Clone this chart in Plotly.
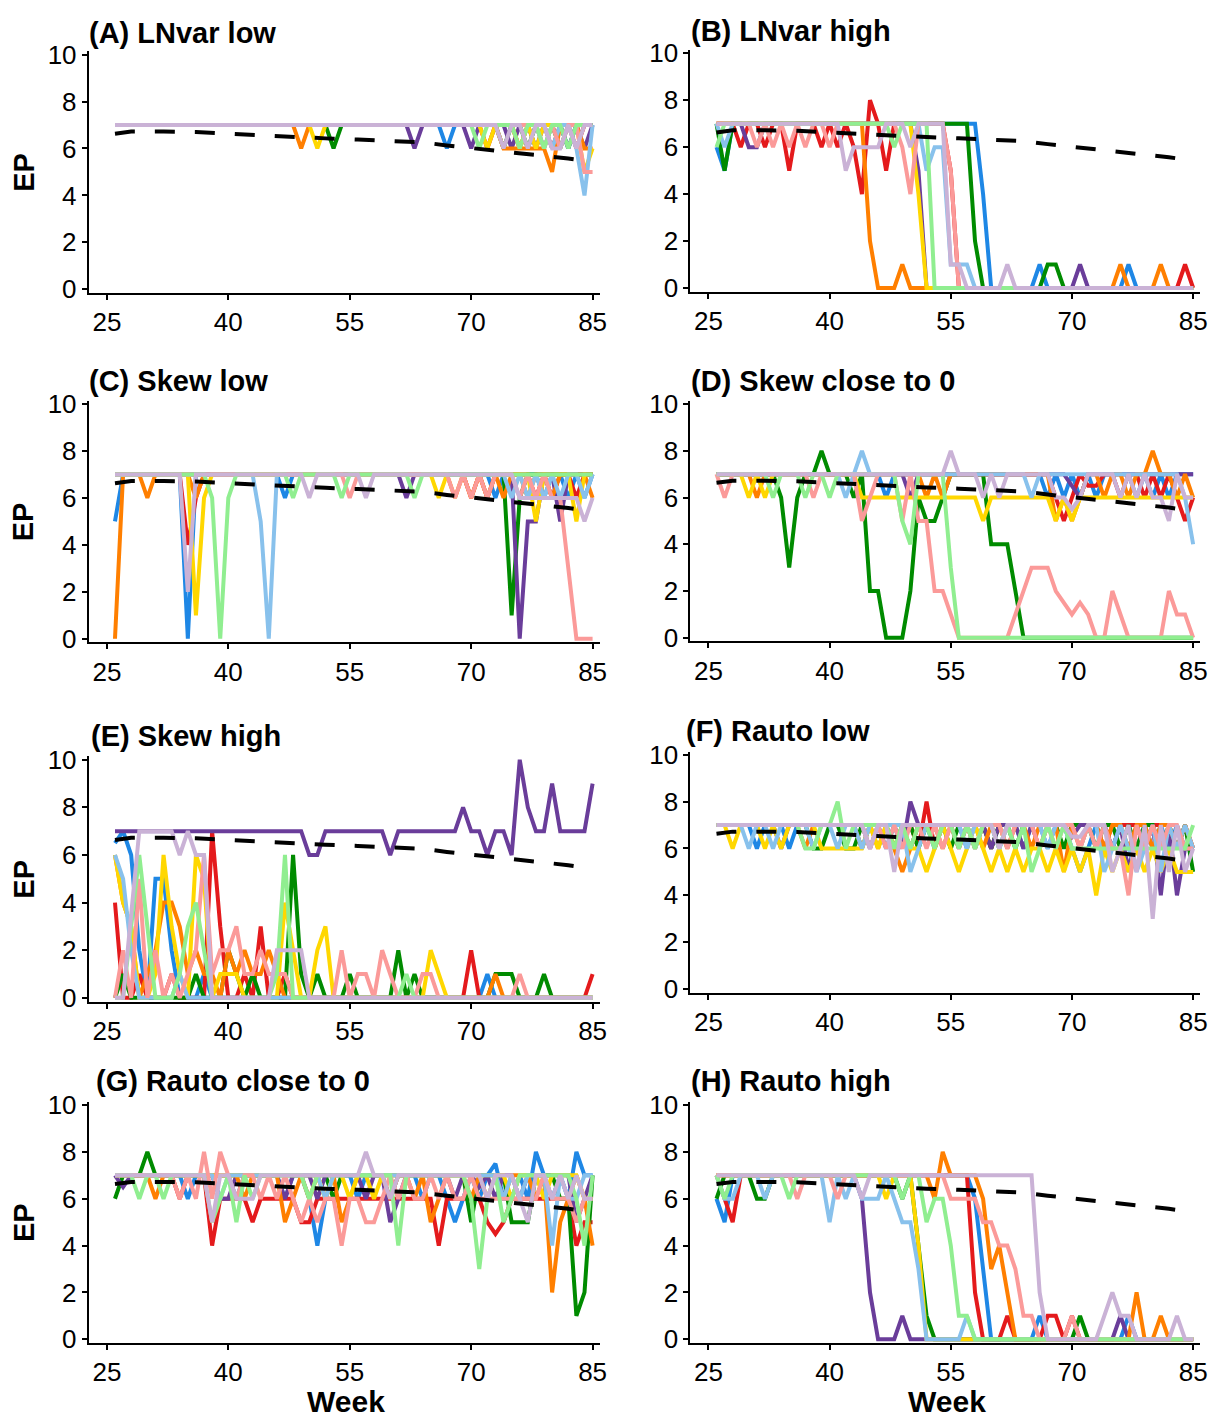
import plotly.graph_objects as go

# ---------------- data ----------------
weeks = list(range(26, 86))  # 60 weekly points
series_names = ["blue", "red", "green", "purple", "orange", "yellow",
                "lightblue", "pink", "lightgreen", "lightpurple"]
series_colors = ["#1E87E5", "#E41A1C", "#008B00", "#6A3D9A", "#FF7F00", "#FFD700",
                 "#88C1EC", "#FB9A99", "#90EE90", "#CAB2D6"]

mean_weeks = [26, 28, 32, 36, 40, 44, 48, 52, 56, 60, 64, 67, 70, 73, 76, 79, 82, 85]
mean_ep = [6.63, 6.72, 6.72, 6.7, 6.63, 6.55, 6.48, 6.43, 6.38, 6.33, 6.26, 6.13, 6.02,
           5.93, 5.8, 5.7, 5.57, 5.43]

panel_titles = ["(A) LNvar low", "(B) LNvar high", "(C) Skew low", "(D) Skew close to 0",
                "(E) Skew high", "(F) Rauto low", "(G) Rauto close to 0", "(H) Rauto high"]
x_ticks = [25, 40, 55, 70, 85]
y_ticks = [0, 2, 4, 6, 8, 10]

# each panel: 10 series (order of series_names), weeks 26..85 in groups of ten
A_ep = [
    [7,7,7,7,7,7,7,7,7,7, 7,7,7,7,7,7,7,7,7,7, 7,7,7,7,7,7,7,7,7,7, 7,7,7,7,7,7,7,7,7,7, 7,6,7,7,7,7,7,7,7,7, 7,7,7,6,7,7,6,7,7,7],
    [7,7,7,7,7,7,7,7,7,7, 7,7,7,7,7,7,7,7,7,7, 7,7,7,7,7,7,7,7,7,7, 7,7,7,7,7,7,7,7,7,7, 7,7,7,7,7,7,6,7,7,7, 6,7,7,7,6,7,7,6,7,7],
    [7,7,7,7,7,7,7,7,7,7, 7,7,7,7,7,7,7,7,7,7, 7,7,7,7,7,7,7,6,7,7, 7,7,7,7,7,7,7,7,7,7, 7,7,7,7,7,7,7,7,6,7, 7,6,7,7,7,6,7,7,7,7],
    [7,7,7,7,7,7,7,7,7,7, 7,7,7,7,7,7,7,7,7,7, 7,7,7,7,7,7,7,7,7,7, 7,7,7,7,7,7,7,6,7,7, 7,7,7,7,6,7,7,7,7,6, 7,7,6,7,7,7,6,7,6,7],
    [7,7,7,7,7,7,7,7,7,7, 7,7,7,7,7,7,7,7,7,7, 7,7,7,6,7,7,7,7,7,7, 7,7,7,7,7,7,7,7,7,7, 7,7,7,7,7,7,7,7,6,6, 6,6,6,6,5,7,7,7,6,6],
    [7,7,7,7,7,7,7,7,7,7, 7,7,7,7,7,7,7,7,7,7, 7,7,7,7,7,6,7,7,7,7, 7,7,7,7,7,7,7,7,7,7, 7,7,7,7,7,7,6,7,7,7, 6,7,6,7,7,7,7,7,5,6],
    [7,7,7,7,7,7,7,7,7,7, 7,7,7,7,7,7,7,7,7,7, 7,7,7,7,7,7,7,7,7,7, 7,7,7,7,7,7,7,7,7,7, 7,7,7,7,7,7,7,7,7,7, 7,7,7,7,6,7,7,6,4,7],
    [7,7,7,7,7,7,7,7,7,7, 7,7,7,7,7,7,7,7,7,7, 7,7,7,7,7,7,7,7,7,7, 7,7,7,7,7,7,7,7,7,7, 7,7,7,7,7,7,7,7,7,7, 7,7,7,6,7,6,7,7,5,5],
    [7,7,7,7,7,7,7,7,7,7, 7,7,7,7,7,7,7,7,7,7, 7,7,7,7,7,7,7,7,7,7, 7,7,7,7,7,7,7,7,7,7, 7,7,7,7,7,6,7,7,7,7, 6,7,7,6,7,7,6,7,7,7],
    [7,7,7,7,7,7,7,7,7,7, 7,7,7,7,7,7,7,7,7,7, 7,7,7,7,7,7,7,7,7,7, 7,7,7,7,7,7,7,7,7,7, 7,7,7,7,7,7,7,7,6,7, 7,6,7,7,6,6,7,6,7,7],
]
B_ep = [
    [6,5,7,7,7,7,7,7,7,7, 7,7,7,7,7,7,7,7,7,7, 7,7,7,7,7,7,7,7,7,7, 7,7,7,4,0,0,0,0,0,0, 1,0,0,0,0,0,0,0,0,0, 0,1,0,0,0,0,0,0,0,0],
    [7,7,7,6,7,7,6,7,7,5, 7,7,7,6,7,6,7,6,4,8, 7,5,7,7,7,7,7,7,7,5, 0,0,0,0,0,0,0,0,0,0, 0,0,0,0,0,0,0,0,0,0, 0,0,0,0,0,0,0,0,1,0],
    [7,5,7,7,7,7,7,7,7,7, 7,7,7,7,7,7,7,7,7,7, 7,7,7,7,7,7,7,7,7,7, 7,7,2,0,0,0,0,0,0,0, 0,1,1,0,0,0,0,0,0,0, 0,0,0,0,0,0,0,0,0,0],
    [7,7,7,7,6,6,7,7,7,7, 7,7,7,7,7,7,7,7,7,7, 7,7,7,7,7,5,0,0,0,0, 0,0,0,0,0,0,0,0,0,0, 0,0,0,0,0,1,0,0,0,0, 0,0,0,0,0,0,0,0,0,0],
    [7,7,7,7,7,7,7,7,7,7, 7,7,7,7,7,7,7,7,7,2, 0,0,0,1,0,0,0,0,0,0, 0,0,0,0,0,0,0,0,0,0, 0,0,0,0,0,0,0,0,0,0, 1,0,0,0,0,1,0,0,0,0],
    [7,7,7,7,7,7,7,7,7,7, 7,7,7,7,7,7,7,7,7,7, 7,7,7,7,7,4,0,0,0,0, 0,0,0,0,0,0,0,0,0,0, 0,0,0,0,0,0,0,0,0,0, 0,0,0,0,0,0,0,0,0,0],
    [7,6,7,7,7,7,7,7,7,7, 7,7,7,7,7,7,7,7,7,7, 7,7,7,7,7,7,5,6,6,1, 1,1,0,0,0,0,0,0,0,0, 0,0,0,0,0,0,0,0,0,0, 0,0,0,0,0,0,0,0,0,0],
    [7,7,7,7,7,6,7,6,7,6, 7,6,7,7,6,7,7,7,7,7, 7,7,7,6,4,7,7,7,7,5, 0,0,0,0,0,0,0,0,0,0, 0,0,0,0,0,0,0,0,0,0, 0,0,0,0,0,0,0,0,0,0],
    [6,7,7,7,7,7,7,7,7,7, 7,7,7,7,7,7,7,7,7,7, 7,7,6,7,7,7,7,0,0,0, 0,0,0,0,0,0,0,0,0,0, 0,0,0,0,0,0,0,0,0,0, 0,0,0,0,0,0,0,0,0,0],
    [7,7,7,7,7,7,7,7,7,7, 7,7,7,7,7,7,5,6,6,6, 6,7,7,7,6,7,7,7,7,1, 1,0,0,0,0,0,1,0,0,0, 0,0,0,0,0,0,0,0,0,0, 0,0,0,0,0,0,0,0,0,0],
]
C_ep = [
    [5,7,7,7,7,7,7,7,7,0, 7,7,7,7,7,7,7,7,7,7, 7,6,7,7,7,7,7,7,7,7, 7,7,7,7,7,7,7,7,7,7, 7,7,7,7,7,7,7,6,7,7, 7,7,7,6,7,7,6,7,6,7],
    [7,7,7,7,7,7,7,7,7,4, 6,7,7,7,7,7,7,7,7,7, 7,7,7,7,7,7,7,7,7,7, 7,7,7,7,7,7,7,7,7,7, 7,7,7,7,6,7,6,7,7,7, 7,7,6,7,6,7,7,6,7,7],
    [7,7,7,7,7,7,7,7,7,7, 7,7,7,7,7,7,7,7,7,7, 7,7,7,7,7,7,7,7,7,7, 7,7,7,7,7,7,7,7,7,7, 7,7,7,7,7,7,7,7,7,1, 6,7,7,7,7,7,7,7,7,7],
    [7,7,7,7,7,7,7,7,7,7, 7,7,7,7,7,7,7,7,7,7, 7,7,7,7,7,7,7,7,7,7, 7,7,7,7,7,7,6,7,7,7, 7,7,7,7,7,7,7,7,7,7, 0,5,5,7,7,5,7,7,7,7],
    [0,7,7,7,6,7,7,7,7,7, 6,7,7,7,7,7,7,7,7,7, 7,7,7,7,7,7,7,7,7,7, 7,7,7,7,7,7,7,7,7,7, 7,7,6,7,6,7,6,7,6,7, 7,6,7,7,6,7,7,7,7,6],
    [7,7,7,7,7,7,7,7,7,7, 1,6,7,7,7,7,7,7,7,7, 7,7,7,7,7,7,7,7,7,7, 7,7,7,7,7,7,7,7,7,7, 6,7,7,7,7,7,7,7,7,7, 7,7,5,7,7,7,7,5,7,7],
    [7,7,7,7,7,7,7,7,7,7, 7,7,7,7,7,7,7,7,5,0, 7,7,7,7,7,7,7,7,7,7, 7,7,7,7,7,7,7,7,7,7, 7,7,7,7,7,7,7,7,7,6, 7,6,7,6,7,6,7,7,6,7],
    [7,7,7,7,7,7,7,7,7,7, 7,7,7,7,7,7,7,7,7,7, 7,7,7,7,7,7,7,7,7,6, 7,7,7,7,7,7,7,7,7,7, 7,7,6,7,6,7,6,7,7,7, 6,7,6,7,6,6,3,0,0,0],
    [7,7,7,7,7,7,7,7,7,7, 7,7,6,0,6,7,7,7,7,7, 7,7,6,7,7,7,7,7,6,7, 7,7,7,7,7,7,7,6,7,7, 7,7,7,7,7,7,7,7,7,7, 7,7,7,7,7,7,7,7,7,7],
    [7,7,7,7,7,7,7,7,7,2, 7,7,7,7,7,7,7,7,7,7, 7,7,7,7,6,7,7,7,7,7, 7,6,7,7,7,7,7,7,7,7, 7,7,7,7,7,7,7,7,7,7, 6,6,6,6,6,6,6,6,5,6],
]
D_ep = [
    [7,7,7,7,7,7,7,7,7,7, 7,7,7,7,7,7,7,7,7,7, 7,6,7,7,7,7,7,7,7,7, 7,7,7,7,7,7,7,7,7,7, 7,6,7,6,7,6,7,6,7,7, 7,7,6,7,6,7,6,7,7,7],
    [7,7,7,7,7,7,7,7,7,7, 7,7,7,7,7,7,7,7,7,7, 7,7,7,7,7,7,7,7,7,7, 7,7,7,7,7,7,7,7,7,7, 7,7,6,5,6,7,6.5,6.5,7,7, 6,7,7,6,7,6,7,6,5,6],
    [7,7,7,7,7,7,7,7,6,3, 6,7,7,8,7,7,7,6,7,2, 2,0,0,0,2,6,5,5,6,7, 7,7,7,7,4,4,4,2,0,0, 0,0,0,0,0,0,0,0,0,0, 0,0,0,0,0,0,0,0,0,0],
    [7,7,7,7,7,7,7,7,7,7, 7,7,7,7,7,7,7,7,7,7, 7,7,7,7,6,7,7,7,7,7, 7,7,7,7,7,7,7,7,7,7, 7,7,7,7,6.5,6,7,7,7,7, 7,7,7,7,7,7,7,7,7,7],
    [7,7,7,7,7,6,7,7,7,7, 7,7,7,7,7,7,7,7,7,7, 7,7,7,7,7,7,6,7,6,7, 7,7,7,7,7,7,7,7,7,7, 7,7,5,6,5,6,7,7,6,7, 7,6,7,7,8,7,7,6,7,6],
    [7,7,7,7,6,7,6,7,7,7, 7,7,7,7,7,7,7,7,6,6, 6,6,6,6,6,6,6,6,6,6, 6,6,6,5,6,6,6,6,6,6, 6,6,5,6,5,6,6,6,6,6, 6,6,6,6,6,6,6,6,6,6],
    [7,7,7,7,7,7,7,7,7,7, 7,7,7,7,7,7,6,7,8,7, 7,7,7,7,7,7,7,7,7,7, 7,7,7,7,7,7,7,7,7,6, 7,7,7,7,7,7,7,7,7,7, 7,7,7,7,7,7,7,7,6,4],
    [7,6,7,7,7,7,7,7,7,7, 7,7,6,7,7,7,7,7,5,6, 7,7,7,5,7,5,5,2,2,1, 0,0,0,0,0,0,0,1,2,3, 3,3,2,1.5,1,1.5,1,0,0,2, 1,0,0,0,0,0,2,1,1,0],
    [7,7,7,7,7,7,7,6,7,7, 7,6,7,7,6,7,7,7,7,7, 7,7,7,5,4,7,7,7,7,3, 0,0,0,0,0,0,0,0,0,0, 0,0,0,0,0,0,0,0,0,0, 0,0,0,0,0,0,0,0,0,0],
    [7,7,7,7,7,7,7,7,7,7, 7,7,7,7,7,7,7,7,7,7, 7,7,7,7,7,7,7,7,7,8, 7,7,7,6,7,6,7,7,7,7, 7,7,6,6,5.5,6,7,7,7,7, 6,7,6,7,6,6,5,7,6,6],
]
E_ep = [
    [6.5,7,6,2,0,5,5,2,0,0, 0,1,0,0,0,0,0,0,0,0, 0,0,0,0,0,0,0,0,0,0, 0,0,0,0,0,0,0,0,0,0, 0,0,0,0,0,0,1,0,0,0, 0,0,0,0,0,0,0,0,0,0],
    [4,0,0,1,0,0,0,1,0,0, 0,0,7,3,0,0,1,0,3,0, 0,1,0,0,0,0,0,0,0,0, 0,0,0,0,0,0,0,0,0,0, 0,0,0,0,2,0,0,0,0,0, 0,0,0,0,0,0,0,0,0,1],
    [0,1,0,0,0,0,0,0,0,0, 1,0,0,0,2,1,0,1,0,0, 0,0,6,1,0,1,0,0,0,1, 0,0,0,0,0,2,0,1,0,0, 0,0,0,0,0,0,0,1,1,1, 0,0,0,1,0,0,0,0,0,0],
    [7,7,7,7,7,7,7,7,7,7, 7,7,7,7,7,7,7,7,7,7, 7,7,7,7,6,6,7,7,7,7, 7,7,7,7,6,7,7,7,7,7, 7,7,7,8,7,7,6,7,7,6, 10,8,7,7,9,7,7,7,7,9],
    [6,4,3,0,1,2,4,4,3,1, 2,1,1,0,2,1,2,1,1,2, 1,0,0,0,0,0,0,0,0,0, 0,0,0,0,0,0,0,0,0,0, 0,0,0,0,0,0,0,1,0,0, 0,0,0,0,0,0,0,0,0,0],
    [6,4,3,0,0,1,6,3,1,0, 6,5,0,1,1,1,0,0,0,0, 0,4,2,0,0,2,3,0,0,0, 0,0,0,0,0,0,0,0,0,2, 1,0,0,0,0,0,0,0,0,0, 0,0,0,0,0,0,0,0,0,0],
    [6,5,2,0,0,0,0,0,1,0, 0,0,0,0,0,0,0,0,0,0, 0,0,0,0,0,0,0,0,0,0, 0,0,0,0,0,0,0,0,0,0, 0,0,0,0,0,0,0,0,0,0, 0,0,0,0,0,0,0,0,0,0],
    [0,2,0,5,0,2,0,1,0,1, 2,6,1,2,2,3,1,1,2,1, 1,1,0,0,0,0,0,0,2,0, 1,1,0,2,1,0,0,0,1,1, 0,0,0,0,0,0,0,0,0,0, 1,0,0,0,0,0,0,0,0,0],
    [0,0,3,6,3,0,0,0,1,3, 4,2,0,0,0,0,0,0,0,0, 1,6,0,0,0,0,0,0,0,0, 0,0,0,0,0,0,1,0,0,0, 0,0,0,0,0,0,0,0,0,0, 0,0,0,0,0,0,0,0,0,0],
    [0,0,3.5,7,7,7,7,7,6,7, 6,6,0,0,0,0,0,0,0,0, 2,2,2,2,0,0,0,0,0,0, 0,0,0,0,0,0,0,0,0,0, 0,0,0,0,0,0,0,0,0,0, 0,0,0,0,0,0,0,0,0,0],
]
F_ep = [
    [7,7,7,7,7,6,7,7,7,6, 7,7,7,7,7,7,7,7,6,7, 7,6,7,7,6,7,7,6,7,7, 7,6,7,7,7,6,7,7,6,7, 7,6,7,7,6,5,6,7,7,6, 7,7,6,7,6,7,6,7,6,6],
    [7,7,7,7,7,7,7,7,7,7, 7,7,7,7,7,7,7,7,7,7, 7,7,7,7,7,6,8,6,7,7, 6,7,7,7,6,7,7,7,7,7, 6,7,7,7,7,7,7,7,6,7, 7,7,7,6,7,7,7,6,7,6],
    [7,7,7,7,7,7,7,7,7,7, 7,7,6,6,7,7,6,6,7,7, 7,7,6,7,7,6,7,7,7,6, 7,7,6,7,6,7,7,6,7,7, 7,7,7,6,7,7,7,6,7,7, 6,7,6,7,7,6,7,6,7,5],
    [7,7,7,7,7,7,7,7,6,7, 7,7,7,7,7,7,7,7,7,6, 7,7,7,6,8,7,7,7,7,7, 7,7,7,7,6,7,7,7,6,7, 7,7,7,7,6.5,7,7,7,7,6, 7,5,7,6,7,4,7,4,6,6],
    [7,7,7,7,7,7,7,7,7,7, 7,6,7,7,7,7,7,7,6,7, 6,7,6,5,6,7,7,7,6,7, 7,7,7,6,7,7,6,7,7,6, 7,7,7,5,7,6,7,7,6,7, 7,6,7,7,6,7,7,6,7,6],
    [7,7,6,7,7,7,6,7,6,7, 7,7,7,6,6,6,6,6,6,7, 6,7,6,7,6,6,5,6,7,6, 5,6,7,6,5,6,5,6,5,6, 6,5,6,5,6,5,6,4,6,5, 6,5,6,5,6,5,6,5,5,5],
    [7,7,7,7,6,7,7,6,7,7, 7,7,6,7,7,6,7,7,6,7, 7,7,7,7,5,6,7,7,7,7, 7,6,7,7,7,6,7,7,7,7, 7,6,7,7,6,6,7,7,5,6, 7,6,5,6,7,5,7,6,7,6],
    [7,7,7,7,7,7,7,7,7,7, 7,7,7,7,7,7,7,7,7,6, 7,6,7,6,7,7,6,7,6,7, 7,7,6,7,7,7,6,7,7,7, 6,7,6,7,7,6,7,6,7,6, 6,4,7,6,7,6,7,7,6,6],
    [7,7,7,7,7,7,7,7,7,7, 7,6,6,7,7,8,6,7,7,7, 7,7,6,7,6,7,7,6,7,7, 6,7,6,7,7,6,7,6,7,5, 6,7,6,7,6,6,6,6,6,6, 6,6,6,6,6,6,6,6,6,7],
    [7,7,7,7,7,7,7,7,7,7, 7,7,7,7,7,7,7,7,7,6, 7,7,5,7,7,7,7,7,7,7, 7,7,7,7,7,6,7,7,7,7, 7,7,7,7,6.5,6.5,7,7,7,5, 6,7,5,7,3,7,5,7,5,6],
]
G_ep = [
    [7,7,7,7,7,7,7,7,7,6, 7,7,7,7,7,6,7,7,7,7, 7,6,7,7,6,4,6,7,7,7, 6,7,7,7,6,7,7,7,6,7, 7,6,5,6,7,6,7,7.5,6,6, 7,6,8,7,6,7,6,8,7,7],
    [7,7,7,7,7,7,7,7,6,7, 7,7,4,6,6,6,6,5,6,6, 6,6,6,5,5,6,6,6,6,6, 6,6,6,6,6,6,6,6,6,6, 4,6,6,6,6,6,5,4.5,5,6, 6,6,6,6,6,6,6,4,5,5],
    [6,7,7,7,8,7,7,7,7,7, 7,7,7,7,7,7,7,7,7,7, 7,7,7,7,7,7,7,6,7,7, 7,7,7,7,7,7,7,7,7,7, 7,7,7,7,5,7,7,7,7,5, 5,5,7,7,7,6,6,1,2,7],
    [7,6.5,7,7,7,7,7,7,7,7, 7,7,7,6,6,7,7,7,7,7, 7,6,7,7,7,6,7,7,7,7, 7,6,7,7,5,6,7,7,7,7, 7,7,6,7,7,6.5,7,6,7,7, 6,7,7,7,7,7,7,5,6,7],
    [7,7,7,7,7,6,7,7,7,7, 7,7,7,7,7,7,6,7,7,7, 7,5,6,7,6,7,6,7,5,6, 7,7,7,7,6,7,7,6,7,5, 6,7,7,7,6,7,6,7,6,7, 7,7,6,7,2,5,6,7,6,4],
    [7,7,7,7,7,7,7,7,7,7, 7,7,7,7,7,7,7,7,7,7, 7,7,7,7,7,7,6,7,7,6, 7,7,6,7,7,7,7,7,7,7, 7,7,7,7,7,7,7,7,7,6, 7,7,7,6,7,7,7,7,6,6],
    [7,7,7,7,7,7,7,7,7,7, 7,7,7,6,7,7,7,7,7,7, 7,7,7,7,7,7,6,7,7,7, 7,7,7,7,7,7,7,7,7,7, 7,7,7,7,7,7,7,7,6,7, 6,7,7,7,4,7,6,6,7,7],
    [7,7,7,7,7,7,7,7,6,7, 6,8,6,8,7,6,7,7,6,7, 6,7,6,5,6,5,6,6,4,6, 6,5,5,6,7,6,7,6,6,7, 6,7,6,6,7,6,6,6,6,6, 6,6,6,7,6,6,6,5,6,6],
    [7,7,7,6,7,7,6,7,7,7, 7,7,5,6,7,5,7,6,7,7, 7,7,7,7,6,7,7,7,7,7, 7,7,7,7,7,4,7,7,7,7, 7,7,7,7,6,3,6,7,5,6, 7,7,7,7,7,7,7,6,4,7],
    [7,7,7,7,7,7,7,7,7,7, 7,7,5,7,7,6,6,6,7,7, 7,7,7,7,7,7,7,7,7,7, 7,8,7,7,6,7,7,7,7,7, 7,7,7,7,7,7,6,7,7,7, 6,5,7,7,6,7,6,7,6,6],
]
H_ep = [
    [6,5,7,7,7,7,7,7,7,7, 7,7,7,7,7,7,7,7,7,7, 7,7,7,7,7,7,7,7,7,7, 7,7,6,3,0,0,0,0,0,0, 1,0,0,0,0,0,0,0,0,0, 0,1,0,0,0,0,0,0,0,0],
    [7,6,5,7,7,7,7,7,7,7, 7,7,7,7,7,7,7,7,7,7, 7,7,7,7,7,7,7,7,7,7, 7,7,2,0,0,0,1,0,0,0, 0,1,1,0,1,0,0,0,0,0, 0,0,0,0,0,0,0,0,0,0],
    [6,7,7,7,7,6,6,7,7,7, 7,7,7,7,7,7,7,7,7,7, 7,7,7,6,7,4,1,0,0,0, 0,0,0,0,0,0,0,0,0,0, 0,0,0,0,0,1,0,0,0,0, 0,0,0,0,0,0,0,0,0,0],
    [7,7,7,7,7,7,7,7,7,7, 7,7,7,7,7,7,7,7,6,2, 0,0,0,1,0,0,0,0,0,0, 0,0,0,0,0,0,0,0,0,0, 0,0,0,0,0,0,0,0,0,0, 1,0,0,0,0,0,0,0,0,0],
    [7,7,7,7,7,7,7,7,7,7, 7,7,7,7,7,7,7,7,7,7, 7,7,7,7,7,7,7,6,8,7, 7,7,7,6,3,4,2,0,0,0, 0,0,0,0,0,0,0,0,0,0, 0,0,2,0,0,1,0,0,0,0],
    [7,7,7,7,7,7,7,7,7,7, 7,7,7,7,7,7,7,7,7,7, 7,6,7,7,7,4,0,0,0,0, 0,0,0,0,0,0,0,0,0,0, 0,0,0,0,0,0,0,0,0,0, 0,0,0,0,0,0,0,0,0,0],
    [7,6,6,7,7,7,6,7,7,7, 7,7,7,7,5,7,6,7,6,6, 6,7,6,5,5,3,0,0,0,0, 0,1,0,0,0,0,0,0,0,0, 0,0,0,0,0,0,0,0,0,0, 0,0,0,0,0,0,0,0,0,0],
    [7,7,7,7,7,7,7,7,7,7, 6,7,7,7,7,6,7,7,7,7, 7,7,7,7,7,7,7,7,7,6, 6,6,6,5,5,4,4,3,1,1, 0,0,0,0,1,0,0,0,0,0, 0,0,0,0,0,0,0,0,0,0],
    [7,6,7,7,7,7,7,7,7,6, 7,7,7,7,7,7,7,7,7,7, 7,7,7,6,7,7,5,6,6,4, 1,1,0,0,0,0,0,0,0,0, 0,0,0,0,0,0,0,0,0,0, 0,0,0,0,0,0,0,0,0,0],
    [7,7,7,7,7,7,7,7,7,7, 7,7,7,7,7,7,7,7,6,7, 7,7,7,7,7,7,7,7,7,7, 7,7,7,7,7,7,7,7,7,7, 2,0,0,0,0,0,0,0,1,2, 1,1,0,0,0,0,0,1,0,0],
]
panels_ep = [A_ep, B_ep, C_ep, D_ep, E_ep, F_ep, G_ep, H_ep]

# ---------------- layout geometry (pixels) ----------------
W, H = 1223, 1427
# per column: axis-line start px, px of week 25, px of week 85, axis-line end px
cols = [(89.3, 107.5, 596.0, 603.0), (694.3, 712.5, 1200.0, 1207.0)]
# per panel: px of y=10 tick, px of y=0 tick
rows = [(43.3, 281.8), (42.0, 280.5), (398.5, 637.0), (398.5, 636.0),
        (760.0, 1002.0), (755.0, 993.0), (1111.0, 1349.0), (1111.0, 1349.0)]
title_pos = [(88, 21), (693, 19), (88, 375), (693, 375),
             (90, 736), (688, 731), (95, 1087), (693, 1087)]
Y_LO, Y_HI = -0.155, 10.14

fig = go.Figure()
layout = dict(width=W, height=H, margin=dict(l=0, r=0, t=0, b=0),
              paper_bgcolor="white", plot_bgcolor="white", showlegend=False,
              font=dict(family="Liberation Sans, Arial, sans-serif", color="black"))
annotations = []

for p in range(8):
    c = p % 2
    ax_start, px25, px85, ax_end = cols[c]
    ppw = (px85 - px25) / 60.0
    xr = [25 - (px25 - ax_start) / ppw, 85 + (ax_end - px85) / ppw]
    p10, p0 = rows[p]
    ppu = (p0 - p10) / 10.0
    bottom_px = p0 - Y_LO * ppu
    top_px = p10 - (Y_HI - 10) * ppu
    xd = [ax_start / W, ax_end / W]
    yd = [1 - bottom_px / H, 1 - top_px / H]
    sfx = "" if p == 0 else str(p + 1)
    axis_common = dict(showgrid=False, zeroline=False, showline=True, linecolor="black",
                       linewidth=2, ticks="outside", ticklen=5, tickwidth=2,
                       tickcolor="black", tickfont=dict(size=26, color="black"))
    layout["xaxis" + sfx] = dict(domain=xd, range=xr, tickvals=x_ticks,
                                 anchor="y" + sfx, **axis_common)
    layout["yaxis" + sfx] = dict(domain=yd, range=[Y_LO, Y_HI], tickvals=y_ticks,
                                 anchor="x" + sfx, **axis_common)
    for s in range(10):
        fig.add_trace(go.Scatter(x=weeks, y=panels_ep[p][s], mode="lines",
                                 line=dict(color=series_colors[s], width=4),
                                 name=series_names[s], xaxis="x" + sfx, yaxis="y" + sfx,
                                 hoverinfo="skip"))
    fig.add_trace(go.Scatter(x=mean_weeks, y=mean_ep, mode="lines",
                             line=dict(color="black", width=4, dash="20px,20px"),
                             name="mean", xaxis="x" + sfx, yaxis="y" + sfx,
                             hoverinfo="skip"))
    tx, ty = title_pos[p]
    annotations.append(dict(text="<b>" + panel_titles[p] + "</b>", xref="paper", yref="paper",
                            x=tx / W, y=1 - ty / H, xanchor="left", yanchor="middle",
                            showarrow=False, font=dict(size=29, color="black")))
    if c == 0:
        annotations.append(dict(text="<b>EP</b>", xref="paper", yref="paper",
                                x=24 / W, y=1 - ((p10 + p0) / 2) / H, textangle=-90,
                                xanchor="center", yanchor="middle", showarrow=False,
                                font=dict(size=29, color="black")))

annotations.append(dict(text="<b>Week</b>", xref="paper", yref="paper", x=348 / W,
                        y=1 - 1412 / H, xanchor="center", yanchor="middle",
                        showarrow=False, font=dict(size=30, color="black")))
annotations.append(dict(text="<b>Week</b>", xref="paper", yref="paper", x=952 / W,
                        y=1 - 1412 / H, xanchor="center", yanchor="middle",
                        showarrow=False, font=dict(size=30, color="black")))
layout["annotations"] = annotations
fig.update_layout(**layout)
fig.write_html("out.html", config={"displayModeBar": False},
               post_script="document.body.style.margin='0px';")
